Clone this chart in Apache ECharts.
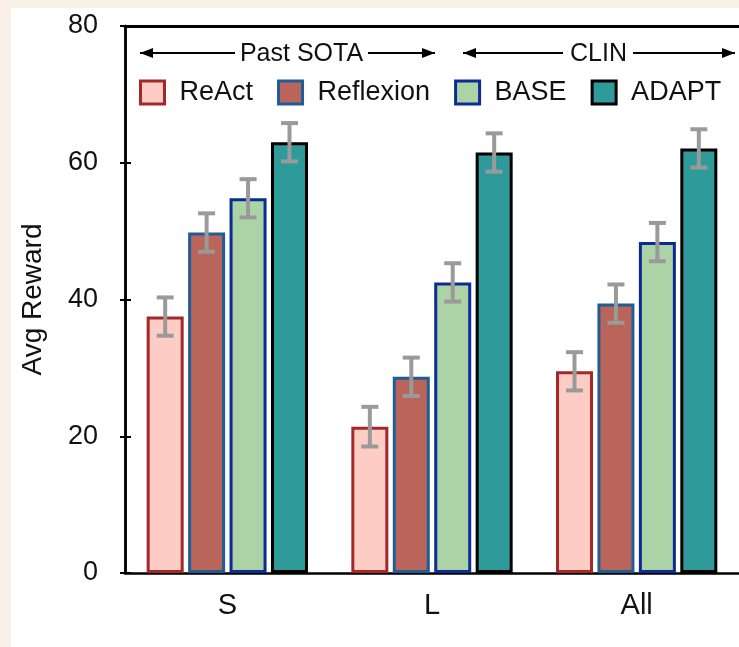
<!DOCTYPE html>
<html><head><meta charset="utf-8">
<script src="https://cdn.jsdelivr.net/npm/echarts@6/dist/echarts.min.js"></script>
<style>
html,body{margin:0;padding:0;background:#f8f0e6;width:739px;height:647px;overflow:hidden;}
#panel{position:absolute;left:11px;top:8px;width:728px;height:639px;background:#ffffff;}
#chart{position:absolute;left:0;top:0;width:739px;height:647px;}
</style></head><body><div id="panel"></div><div id="chart"></div>
<script>
// ---- data ----
const categories = ['S', 'L', 'All'];
const seriesNames = ['ReAct', 'Reflexion', 'BASE', 'ADAPT'];
const reactValues = [37.5, 21.4, 29.5];
const reflexionValues = [49.8, 28.7, 39.4];
const baseValues = [54.8, 42.5, 48.4];
const adaptValues = [63.0, 61.5, 62.1];
const reactErr = [2.8, 2.9, 2.8];
const reflexionErr = [2.8, 2.8, 2.8];
const baseErr = [2.8, 2.8, 2.8];
const adaptErr = [2.8, 2.8, 2.8];
const yTicks = [0, 20, 40, 60, 80];
const groupLabels = ['Past SOTA', 'CLIN'];

// ---- styles ----
const FONT = "'Liberation Sans', Arial, Helvetica, sans-serif";
const fills = ['#fdccc5', '#b9655a', '#abd3a5', '#2e9a9a'];
const borders = ['#a52828', '#1f5c98', '#0d2b94', '#000000'];
const BAR_W = 37, BAR_GAP = 0.12, PITCH = BAR_W * (1 + BAR_GAP);
const GRID_LEFT = 125, GRID_RIGHT = -8, W = 739;
const INNER_TICK_OFFSET = -(W - GRID_LEFT);

const allValues = [reactValues, reflexionValues, baseValues, adaptValues];
const allErrs = [reactErr, reflexionErr, baseErr, adaptErr];

const barSeries = seriesNames.map((n, i) => ({
  name: n, type: 'bar', data: allValues[i],
  barWidth: BAR_W, barGap: (BAR_GAP * 100) + '%',
  itemStyle: { color: fills[i], borderColor: borders[i], borderWidth: 3 },
  z: 2
}));

const errData = [];
allValues.forEach((vals, s) => vals.forEach((v, c) => errData.push([c, s, v, allErrs[s][c]])));

function renderErr(params, api) {
  const c = api.value(0), s = api.value(1), v = api.value(2), e = api.value(3);
  const off = (s - 1.5) * PITCH;
  const top = api.coord([c, v + e]);
  const bot = api.coord([c, v - e]);
  const x = top[0] + off, hw = 8.5;
  const st = { stroke: '#9a9a9a', lineWidth: 4 };
  return { type: 'group', children: [
    { type: 'line', shape: { x1: x, y1: top[1], x2: x, y2: bot[1] }, style: st },
    { type: 'line', shape: { x1: x - hw, y1: top[1], x2: x + hw, y2: top[1] }, style: st },
    { type: 'line', shape: { x1: x - hw, y1: bot[1], x2: x + hw, y2: bot[1] }, style: st }
  ]};
}

function arrow(x1, x2, y, headAt) {
  const hx = headAt === 'left' ? x1 : x2;
  const dir = headAt === 'left' ? 1 : -1;
  return [
    { type: 'line', shape: { x1: x1, y1: y, x2: x2, y2: y }, style: { stroke: '#000', lineWidth: 2 } },
    { type: 'polygon', shape: { points: [[hx, y], [hx + dir * 13, y - 5], [hx + dir * 13, y + 5]] }, style: { fill: '#000' } }
  ];
}

const chart = echarts.init(document.getElementById('chart'));
chart.setOption({
  backgroundColor: 'transparent',
  animation: false,
  textStyle: { fontFamily: FONT },
  grid: { left: GRID_LEFT, right: GRID_RIGHT, top: 26, bottom: 74 },
  legend: {
    data: seriesNames.map((n, i) => ({ name: n, itemStyle: { color: fills[i], borderColor: borders[i], borderWidth: 3 } })),
    left: 134, top: 74, icon: 'rect', itemWidth: 24, itemHeight: 23, itemGap: 24,
    textStyle: { fontSize: 27, color: '#111', fontFamily: FONT, padding: [0, 0, 0, 10] }
  },
  xAxis: [
    { type: 'category', data: categories, position: 'bottom',
      axisLine: { onZero: false, lineStyle: { color: '#000', width: 2.5 } }, axisTick: { show: false },
      axisLabel: { fontSize: 29, color: '#111', margin: 18, fontFamily: FONT } },
    { type: 'category', data: categories, position: 'top',
      axisLine: { show: true, onZero: false, lineStyle: { color: '#000', width: 3 } }, axisTick: { show: false }, axisLabel: { show: false } }
  ],
  yAxis: [
    { type: 'value', min: 0, max: 80, interval: 20, position: 'left',
      name: 'Avg Reward', nameLocation: 'middle', nameGap: 78,
      nameTextStyle: { fontSize: 28, color: '#111', fontFamily: FONT },
      axisLine: { show: true, onZero: false, lineStyle: { color: '#000', width: 2.5 } },
      axisTick: { show: true, inside: false, length: 5, lineStyle: { color: '#000', width: 2 } },
      axisLabel: { fontSize: 27, color: '#111', margin: 27, fontFamily: FONT,
        formatter: v => yTicks.includes(v) ? String(v) : '' },
      splitLine: { show: false } },
    { type: 'value', min: 0, max: 80, interval: 20, position: 'right', offset: INNER_TICK_OFFSET,
      axisLine: { show: true, onZero: false, lineStyle: { color: '#000', width: 2.5 } },
      axisLabel: { show: false }, splitLine: { show: false },
      axisTick: { show: true, inside: false, length: 6, lineStyle: { color: '#000', width: 2 } } }
  ],
  series: barSeries.concat([{
    type: 'custom', name: 'err', data: errData, renderItem: renderErr,
    encode: { x: 0, y: 2 }, z: 5, silent: true
  }]),
  graphic: [].concat(
    arrow(140, 235, 53, 'left'), arrow(368, 435, 53, 'right'),
    arrow(463, 563, 53, 'left'), arrow(633, 735, 53, 'right'),
    [
      { type: 'text', x: 301.5, y: 54, style: { text: groupLabels[0], font: '25px ' + FONT, fill: '#111', textAlign: 'center', textVerticalAlign: 'middle' } },
      { type: 'text', x: 598.5, y: 54, style: { text: groupLabels[1], font: '25px ' + FONT, fill: '#111', textAlign: 'center', textVerticalAlign: 'middle' } }
    ]
  )
});
</script></body></html>
